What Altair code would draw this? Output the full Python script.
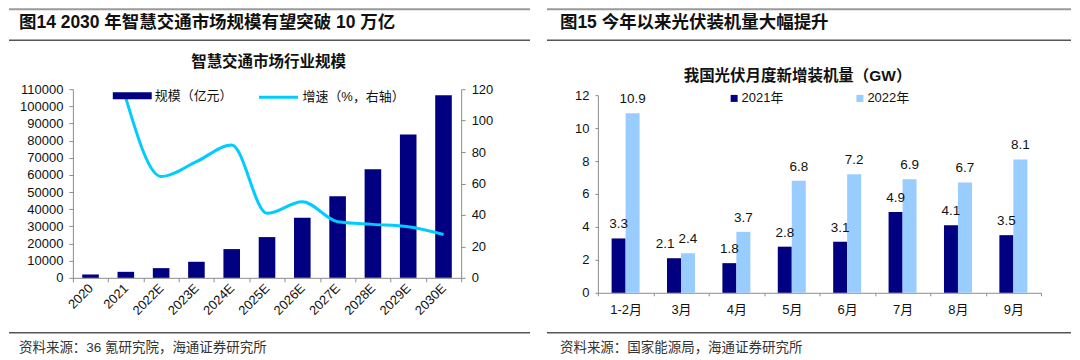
import altair as alt
import pandas as pd

# ---------------- data ----------------
years = ["2020", "2021", "2022E", "2023E", "2024E", "2025E",
         "2026E", "2027E", "2028E", "2029E", "2030E"]
scale_vals = [1950, 3500, 5650, 9350, 16750, 23750, 35050, 47500, 63300, 83500, 106500]
growth_vals = [None, 114.3, 64.4, 73.9, 84.5, 41.0, 48.4, 35.7, 34.0, 32.5, 27.6]

months = ["1-2月", "3月", "4月", "5月", "6月", "7月", "8月", "9月"]
pv_2021 = [3.3, 2.1, 1.8, 2.8, 3.1, 4.9, 4.1, 3.5]
pv_2022 = [10.9, 2.4, 3.7, 6.8, 7.2, 6.9, 6.7, 8.1]
series_pv = ["2021年", "2022年"]

left_series = ["规模（亿元）", "增速（%，右轴）"]

# ---------------- styles ----------------
FONT = "'Liberation Sans', 'Noto Sans CJK SC', sans-serif"
NAVY = "#000080"
LIGHT = "#99CCFF"
CYAN = "#00CCFF"
AXIS_GRAY = "#8c8c8c"
TXT = "#111111"

one = pd.DataFrame({"k": [0]})


def rule(x1, x2, y, color, w):
    return alt.Chart(one).mark_rule(color=color, strokeWidth=w).encode(
        x=alt.value(x1), x2=alt.value(x2), y=alt.value(y))


def label(s, x, y, size, weight="normal", align="left", color=TXT):
    return alt.Chart(one).mark_text(
        text=s, align=align, baseline="middle", fontSize=size,
        fontWeight=weight, font=FONT, color=color).encode(
        x=alt.value(x), y=alt.value(y))


# ---------------- left panel ----------------
W1, H1 = 389, 189
df_left = pd.DataFrame({
    "year": years, "scale": scale_vals, "growth": growth_vals,
    "s1": left_series[0], "s2": left_series[1]})

x_left = alt.X("year:N", sort=years,
               scale=alt.Scale(paddingInner=0, paddingOuter=0),
               axis=alt.Axis(title=None, labelAngle=-45, labelAlign="right",
                             labelBaseline="middle", tickBand="extent",
                             tickSize=4, labelPadding=4, labelFontSize=13))

bars_left = alt.Chart(df_left).mark_bar(width=alt.RelativeBandSize(0.47)).encode(
    x=x_left,
    y=alt.Y("scale:Q", scale=alt.Scale(domain=[0, 110000], nice=False),
            axis=alt.Axis(title=None, values=list(range(0, 110001, 10000)),
                          format="d", tickSize=4, labelPadding=6, labelFontSize=13)),
    color=alt.Color("s1:N", scale=alt.Scale(domain=[left_series[0]], range=[NAVY]),
                    legend=alt.Legend(title=None, orient="none", legendX=40, legendY=-13,
                                      symbolType="M-1,-0.18H1V0.18H-1Z", symbolSize=1521,
                                      symbolStrokeWidth=0, labelFontSize=13,
                                      labelOffset=3, padding=0, labelFont=FONT,
                                      labelColor=TXT)),
)

line_left = alt.Chart(df_left).transform_filter("isValid(datum.growth)").mark_line(
    strokeWidth=3, interpolate="monotone").encode(
    x=x_left,
    y=alt.Y("growth:Q", scale=alt.Scale(domain=[0, 120], nice=False),
            axis=alt.Axis(title=None, orient="right", values=list(range(0, 121, 20)),
                          tickSize=4, labelPadding=6, labelFontSize=13)),
    stroke=alt.Stroke("s2:N", scale=alt.Scale(domain=[left_series[1]], range=[CYAN]),
                      legend=alt.Legend(title=None, orient="none", legendX=185, legendY=-13,
                                        symbolType="stroke", symbolSize=1521,
                                        symbolStrokeWidth=3, labelFontSize=13,
                                        labelOffset=3, padding=0, labelFont=FONT,
                                        labelColor=TXT)),
)

decor_left = [
    rule(-64, 458, -80, "#9a9a9a", 2),
    label("图14 2030 年智慧交通市场规模有望突破 10 万亿", -54, -66, 17.5, "bold"),
    rule(-64, 458, -49, "#555555", 1.5),
    label("智慧交通市场行业规模", 196, -27, 15.5, "bold", "center"),
    rule(-64, 458, 244, "#555555", 1.5),
    label("资料来源：36 氪研究院，海通证券研究所", -54, 259, 13.5, "normal", "left", "#333333"),
]

left_panel = alt.layer(bars_left, line_left, *decor_left).resolve_scale(
    y="independent").properties(width=W1, height=H1)

# ---------------- right panel ----------------
W2, H2 = 444, 204
df_right = pd.DataFrame({
    "month": months * 2,
    "year": [series_pv[0]] * len(months) + [series_pv[1]] * len(months),
    "v": pv_2021 + pv_2022})

x_right = alt.X("month:N", sort=months,
                scale=alt.Scale(paddingInner=0, paddingOuter=0),
                axis=alt.Axis(title=None, labelAngle=0, tickBand="extent",
                              tickSize=3, labelPadding=8, labelFontSize=13))
xo_right = alt.XOffset("year:N", sort=series_pv,
                       scale=alt.Scale(paddingInner=0, paddingOuter=0.98))
y_right = alt.Y("v:Q", scale=alt.Scale(domain=[0, 12], nice=False, range=[H2, 6]),
                axis=alt.Axis(title=None, values=list(range(0, 13, 2)),
                              tickSize=3, labelPadding=6, labelFontSize=13))

bars_right = alt.Chart(df_right).mark_bar().encode(
    x=x_right, xOffset=xo_right, y=y_right,
    color=alt.Color("year:N", sort=series_pv,
                    scale=alt.Scale(domain=series_pv, range=[NAVY, LIGHT]),
                    legend=alt.Legend(title=None, orient="none", direction="horizontal",
                                      legendX=130, legendY=2.5, symbolType="square",
                                      symbolSize=49, symbolStrokeWidth=0,
                                      labelFontSize=13, labelOffset=1,
                                      columnPadding=70, padding=0, labelFont=FONT,
                                      labelColor=TXT)),
)

crowded = "datum.month == '3月' && datum.year == '2021年'"

text_right = alt.Chart(df_right).transform_filter("!(" + crowded + ")").mark_text(
    dy=-14, fontSize=13.5, font=FONT, color=TXT, baseline="middle").encode(
    x=x_right, xOffset=xo_right, y=y_right,
    text=alt.Text("v:Q", format=".1f"))

text_right_shift = alt.Chart(df_right).transform_filter(crowded).mark_text(
    dy=-14, dx=-9, fontSize=13.5, font=FONT, color=TXT, baseline="middle").encode(
    x=x_right, xOffset=xo_right, y=y_right,
    text=alt.Text("v:Q", format=".1f"))

decor_right = [
    rule(-51, 474, -80, "#9a9a9a", 2),
    label("图15 今年以来光伏装机量大幅提升", -38, -66, 17.5, "bold"),
    rule(-51, 474, -49, "#555555", 1.5),
    label("我国光伏月度新增装机量（GW）", 200, -13, 15.5, "bold", "center"),
    rule(-51, 474, 244, "#555555", 1.5),
    label("资料来源：国家能源局，海通证券研究所", -38, 259, 13.5, "normal", "left", "#333333"),
]

right_panel = alt.layer(bars_right, text_right, text_right_shift, *decor_right).properties(
    width=W2, height=H2)

chart = alt.hconcat(left_panel, right_panel, spacing=15).resolve_scale(
    color="independent", stroke="independent", x="independent", y="independent"
).resolve_legend(
    color="independent", stroke="independent"
).properties(
    padding=0
).configure_view(stroke=None).configure_axis(
    labelFont=FONT, labelColor=TXT, domainColor=AXIS_GRAY, tickColor=AXIS_GRAY,
    grid=False, domainWidth=1, tickWidth=1
)

chart.save("out.html", embed_options={"renderer": "svg", "actions": False})
